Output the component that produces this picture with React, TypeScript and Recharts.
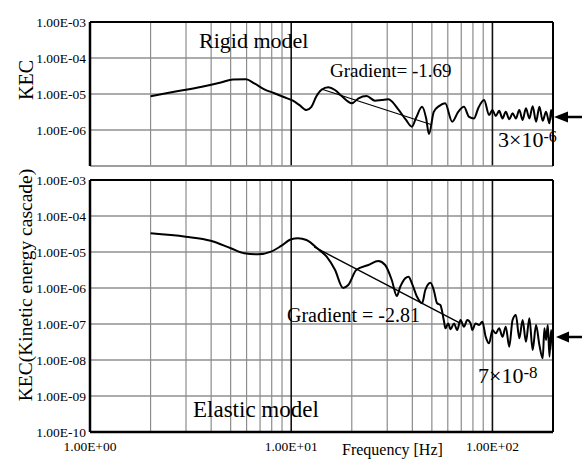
import React from 'react';
import { LineChart, Line, XAxis, YAxis, ReferenceLine } from 'recharts';

const SERIF = '"Liberation Serif", "Times New Roman", serif';

// Rigid model spectrum (Hz, KEC)
const rigidFreq = [
  2, 2.66, 3.55, 4.47, 5.13, 5.96, 6.55, 7.35, 8.25, 9.26,
  10.2, 11.0, 11.9, 12.6, 13.3, 14.1, 15.3, 16.5, 17.8, 20.0,
  21.6, 23.7, 26.1, 28.2, 30.4, 34.2, 37.2, 39.8, 41.7, 44.7,
  46.8, 48.4, 51.1, 54.3, 58.2, 63.1, 67.6, 72.2, 76.5, 81.0,
  85.1, 90.9, 96.3, 100, 103.9, 108, 112.2, 116.5, 121.2, 125.9,
  130.8, 136, 141.3, 146.7, 152.6, 158.5, 164.7, 171.2, 177.8, 184.7,
  192.1, 195.7, 199.5,
];
const rigidKec = [
  8.6e-6, 1.17e-5, 1.56e-5, 2.08e-5, 2.53e-5, 2.56e-5, 1.98e-5, 1.35e-5, 1.05e-5, 8.1e-6,
  6.5e-6, 4.9e-6, 3.6e-6, 4.4e-6, 8.4e-6, 1.29e-5, 1.53e-5, 1.29e-5, 8.8e-6, 5.5e-6,
  7.6e-6, 8.8e-6, 6.5e-6, 6.8e-6, 7.1e-6, 3.6e-6, 1.9e-6, 1.24e-6, 2.15e-6, 4.4e-6,
  2.15e-6, 7.7e-7, 3.2e-6, 4.6e-6, 5.5e-6, 1.7e-6, 3.2e-6, 4.4e-6, 2.3e-6, 2.1e-6,
  4.1e-6, 6.8e-6, 2.6e-6, 3.6e-6, 2.45e-6, 3.4e-6, 2.1e-6, 3.2e-6, 1.98e-6, 2.9e-6,
  2.1e-6, 3.6e-6, 1.9e-6, 4.0e-6, 2.1e-6, 4.6e-6, 1.7e-6, 4.4e-6, 1.8e-6, 3.2e-6,
  1.53e-6, 3.6e-6, 1.9e-6,
];

// Elastic model spectrum (Hz, KEC)
const elasticFreq = [
  2.0, 2.99, 3.98, 5.01, 5.84, 6.82, 7.94, 8.91, 10, 10.8,
  11.9, 13.6, 15.0, 16.5, 18.1, 19.2, 21.1, 24.2, 27.1, 29.3,
  31.6, 33.5, 34.8, 36.9, 38.3, 39.8, 42.2, 44.7, 46.4, 49.2,
  51.1, 53.1, 55.1, 57.3, 58.4, 60.3, 61.9, 64.4, 66.8, 69.4,
  72.2, 75.0, 77.9, 79.4, 82.5, 85.8, 89.1, 92.6, 96.3, 100,
  103.9, 108, 112.2, 116.5, 121.2, 125.9, 130.8, 136, 141.3, 146.7,
  152.6, 158.5, 164.7, 171.2, 177.8, 181.3, 184.7, 188.4, 192.1, 195.7,
  199.5,
];
const elasticKec = [
  3.3e-5, 2.66e-5, 2.06e-5, 1.27e-5, 9.2e-6, 8.6e-6, 1.02e-5, 1.47e-5, 2.25e-5, 2.4e-5,
  2.15e-5, 1.21e-5, 7.4e-6, 3.2e-6, 1.0e-6, 1.21e-6, 3.2e-6, 4.35e-6, 5.6e-6, 4.35e-6,
  1.67e-6, 6.0e-7, 1.07e-6, 1.86e-6, 2.06e-6, 1.35e-6, 5.7e-7, 3.76e-7, 8.8e-7, 1.4e-6,
  8.8e-7, 3.76e-7, 3.37e-7, 1.29e-7, 7.6e-8, 1.04e-7, 7.1e-8, 1.04e-7, 6.8e-8, 1.29e-7,
  8.4e-8, 1.29e-7, 1.04e-7, 6.8e-8, 1.04e-7, 9.4e-8, 1.16e-7, 4.4e-8, 2.9e-8, 6.8e-8,
  5.5e-8, 7.6e-8, 4.4e-8, 8.4e-8, 2.34e-8, 1.29e-7, 1.78e-7, 4.0e-8, 1.29e-7, 3.2e-8,
  1.44e-7, 1.9e-8, 9.4e-8, 2.6e-8, 1.11e-8, 7.6e-8, 3.6e-8, 9.4e-8, 1.24e-8, 6.8e-8,
  1.9e-8,
];

// fitted slopes (start / end points)
const rigidFit = [{ x: 14.1, y: 1.38e-5 }, { x: 49.5, y: 1.42e-6 }];
const elasticFit = [{ x: 13.0, y: 1.38e-5 }, { x: 69.4, y: 1.04e-7 }];

const xMajor = [10, 100];
const xMinor = [2, 3, 4, 5, 6, 7, 8, 9, 20, 30, 40, 50, 60, 70, 80, 90];
const xTicks = [1, 10, 100];
const rigidYTicks = [1e-7, 1e-6, 1e-5, 1e-4, 1e-3];
const elasticYTicks = [1e-10, 1e-9, 1e-8, 1e-7, 1e-6, 1e-5, 1e-4, 1e-3];

const rigidData = rigidFreq.map((f, i) => ({ f, kec: rigidKec[i] }));
const elasticData = elasticFreq.map((f, i) => ({ f, kec: elasticKec[i] }));

const sci = (v: number) => {
  const e = Math.round(Math.log10(v));
  return `1.00E${e < 0 ? '-' : '+'}${String(Math.abs(e)).padStart(2, '0')}`;
};

const tickStyle = { fill: '#000', fontSize: 13.5, fontFamily: SERIF };

const gridLines = (yTicks: number[]) => [
  ...yTicks.map((v) => (
    <ReferenceLine key={`h${v}`} y={v} stroke="#5a5a5a" strokeWidth={1.2} />
  )),
  ...xMinor.map((v) => (
    <ReferenceLine key={`m${v}`} x={v} stroke="#8c8c8c" strokeWidth={1.2} />
  )),
  ...xMajor.map((v) => (
    <ReferenceLine key={`M${v}`} x={v} stroke="#111" strokeWidth={1.6} />
  )),
];

export default function App() {
  return (
    <div style={{ position: 'absolute', left: 0, top: 0, width: 584, height: 459, background: '#fff', fontFamily: SERIF }}>
      <div style={{ position: 'absolute', left: 0, top: 0 }}>
        <LineChart width={584} height={172} data={rigidData} margin={{ top: 22, right: 31, bottom: 6, left: 0 }}>
          <XAxis type="number" dataKey="f" scale="log" domain={[1, 200]} allowDataOverflow hide />
          <YAxis
            type="number"
            scale="log"
            domain={[1e-7, 1e-3]}
            allowDataOverflow
            ticks={rigidYTicks}
            tickFormatter={sci}
            width={90}
            tickSize={0}
            tickMargin={4}
            tickLine={false}
            axisLine={{ stroke: '#000', strokeWidth: 2.5 }}
            tick={tickStyle}
          />
          {gridLines(rigidYTicks)}
          <ReferenceLine y={1e-7} stroke="#9a9a9a" strokeWidth={1.5} />
          <ReferenceLine y={1e-3} stroke="#000" strokeWidth={2} />
          <ReferenceLine x={200} stroke="#000" strokeWidth={2} />
          <ReferenceLine segment={rigidFit} stroke="#000" strokeWidth={1.2} />
          <Line type="monotone" dataKey="kec" stroke="#000" strokeWidth={2} dot={false} isAnimationActive={false} />
        </LineChart>
      </div>
      <div style={{ position: 'absolute', left: 0, top: 172 }}>
        <LineChart width={584} height={287} data={elasticData} margin={{ top: 8, right: 31, bottom: 0, left: 0 }}>
          <XAxis
            type="number"
            dataKey="f"
            scale="log"
            domain={[1, 200]}
            allowDataOverflow
            ticks={xTicks}
            tickFormatter={sci}
            height={27}
            tickSize={6}
            tickMargin={3}
            tickLine={false}
            axisLine={{ stroke: '#000', strokeWidth: 2.5 }}
            tick={tickStyle}
          />
          <YAxis
            type="number"
            scale="log"
            domain={[1e-10, 1e-3]}
            allowDataOverflow
            ticks={elasticYTicks}
            tickFormatter={sci}
            width={90}
            tickSize={0}
            tickMargin={4}
            tickLine={false}
            axisLine={{ stroke: '#000', strokeWidth: 2.5 }}
            tick={tickStyle}
          />
          {gridLines(elasticYTicks)}
          <ReferenceLine y={1e-3} stroke="#000" strokeWidth={2} />
          <ReferenceLine x={200} stroke="#000" strokeWidth={2} />
          <ReferenceLine segment={elasticFit} stroke="#000" strokeWidth={1.4} />
          <Line type="monotone" dataKey="kec" stroke="#000" strokeWidth={2} dot={false} isAnimationActive={false} />
        </LineChart>
      </div>
      <svg width={584} height={459} style={{ position: 'absolute', left: 0, top: 0, pointerEvents: 'none' }}>
        <g fontFamily={SERIF} fill="#000">
          <text x={33} y={80} fontSize={20} textAnchor="middle" transform="rotate(-90 33 80)">KEC</text>
          <text x={32} y={285} fontSize={19.5} textAnchor="middle" transform="rotate(-90 32 285)">KEC(Kinetic energy cascade)</text>
          <text x={199} y={48} fontSize={22}>Rigid model</text>
          <text x={330} y={77} fontSize={19}>Gradient= -1.69</text>
          <text x={498} y={147} fontSize={22}>3×10<tspan fontSize={16} dy={-5}>-6</tspan></text>
          <text x={193} y={417} fontSize={23}>Elastic model</text>
          <text x={287} y={322} fontSize={20}>Gradient = -2.81</text>
          <text x={478} y={383} fontSize={22}>7×10<tspan fontSize={17} dy={-5}>-8</tspan></text>
          <text x={342} y={455} fontSize={16}>Frequency [Hz]</text>
        </g>
        <polygon points="554,117 568,111.5 568,122.5" fill="#000" />
        <line x1={566} y1={117} x2={582} y2={117} stroke="#000" strokeWidth={2.5} />
        <polygon points="556,337 569,331.5 569,342.5" fill="#000" />
        <line x1={567} y1={337} x2={582} y2={337} stroke="#000" strokeWidth={2.5} />
      </svg>
    </div>
  );
}
